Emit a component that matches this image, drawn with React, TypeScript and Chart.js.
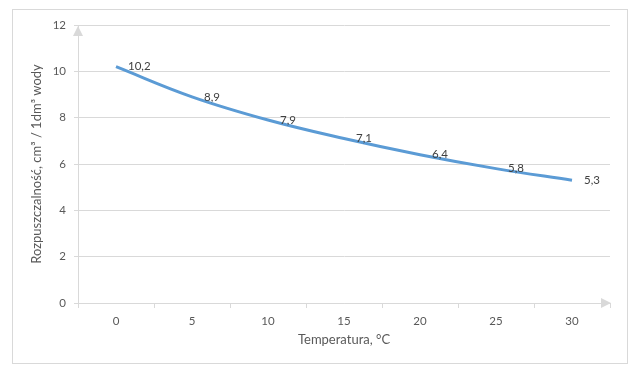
import React, { useEffect, useRef } from "react";
import { Chart, registerables } from "chart.js";

Chart.register(...registerables);

const temperatures = ["0", "5", "10", "15", "20", "25", "30"];
const solubility = [10.2, 8.9, 7.9, 7.1, 6.4, 5.8, 5.3];
const solubilityLabels = ["10,2", "8,9", "7,9", "7,1", "6,4", "5,8", "5,3"];
const yTitle = "Rozpuszczalność, cm³ / 1dm³ wody";
const xTitle = "Temperatura, °C";

const FONT = "Lato, 'Open Sans', sans-serif";
const AXIS_GRAY = "#d9d9d9";
const TEXT_GRAY = "#595959";

const extrasPlugin = {
  id: "extras",
  afterDatasetsDraw(chart: any) {
    const ctx = chart.ctx;
    const meta = chart.getDatasetMeta(0);
    ctx.save();
    ctx.font = `11.5px ${FONT}`;
    ctx.fillStyle = "#404040";
    ctx.textAlign = "left";
    ctx.textBaseline = "middle";
    meta.data.forEach((pt: any, i: number) => {
      ctx.fillText(solubilityLabels[i], pt.x + 12, pt.y);
    });
    ctx.restore();
  },
  afterDraw(chart: any) {
    const ctx = chart.ctx;
    const { left, right, top, bottom } = chart.chartArea;
    ctx.save();
    ctx.fillStyle = AXIS_GRAY;
    ctx.beginPath();
    ctx.moveTo(left, top + 1);
    ctx.lineTo(left - 5, top + 11);
    ctx.lineTo(left + 5, top + 11);
    ctx.closePath();
    ctx.fill();
    ctx.beginPath();
    ctx.moveTo(right + 1, bottom);
    ctx.lineTo(right - 9, bottom - 5);
    ctx.lineTo(right - 9, bottom + 5);
    ctx.closePath();
    ctx.fill();
    ctx.restore();
  },
};

export default function App() {
  const ref = useRef<HTMLCanvasElement | null>(null);
  useEffect(() => {
    if (!ref.current) return;
    const chart = new Chart(ref.current, {
      type: "line",
      data: {
        labels: temperatures,
        datasets: [
          {
            data: solubility,
            borderColor: "#5b9bd5",
            borderWidth: 3,
            pointRadius: 0,
            tension: 0.4,
            fill: false,
          },
        ],
      },
      options: {
        animation: false,
        responsive: false,
        maintainAspectRatio: false,
        layout: { padding: { left: 0, right: 30, top: 25, bottom: 0 } },
        plugins: {
          legend: { display: false },
          tooltip: { enabled: false },
        },
        scales: {
          x: {
            offset: true,
            grid: {
              display: true,
              offset: true,
              drawOnChartArea: false,
              drawTicks: true,
              tickLength: 5,
              color: AXIS_GRAY,
            },
            border: { display: true, color: AXIS_GRAY, width: 1 },
            ticks: {
              color: TEXT_GRAY,
              font: { family: FONT, size: 11.5 },
              padding: 6,
              maxRotation: 0,
            },
            title: {
              display: true,
              text: xTitle,
              color: TEXT_GRAY,
              font: { family: FONT, size: 13 },
              padding: { top: 4, bottom: 26 },
            },
            afterFit(scale: any) {
              scale.height = 71;
            },
          },
          y: {
            min: 0,
            max: 12,
            ticks: {
              stepSize: 2,
              color: TEXT_GRAY,
              font: { family: FONT, size: 11.5 },
              padding: 8,
            },
            grid: {
              color: AXIS_GRAY,
              tickLength: 4,
            },
            border: { display: true, color: AXIS_GRAY, width: 1 },
            title: {
              display: true,
              text: yTitle,
              color: TEXT_GRAY,
              font: { family: FONT, size: 13 },
              padding: { top: 29, bottom: 4 },
            },
            afterFit(scale: any) {
              scale.width = 78;
            },
          },
        },
      },
      plugins: [extrasPlugin],
    });
    return () => chart.destroy();
  }, []);

  return (
    <div style={{ position: "fixed", left: 0, top: 0, width: 640, height: 374, background: "#fff" }}>
      <div
        style={{
          position: "absolute",
          left: 12,
          top: 9,
          width: 616,
          height: 355,
          border: "1px solid #d9d9d9",
          boxSizing: "border-box",
        }}
      />
      <canvas
        ref={ref}
        width={640}
        height={374}
        style={{ position: "absolute", left: 0, top: 0, width: 640, height: 374 }}
      />
    </div>
  );
}
